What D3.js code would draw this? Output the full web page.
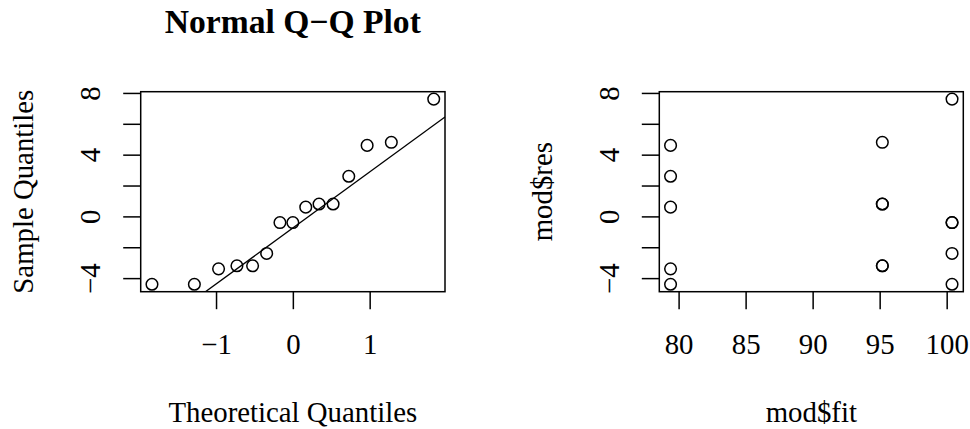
<!DOCTYPE html>
<html>
<head>
<meta charset="utf-8">
<script src="https://cdn.jsdelivr.net/npm/d3@7"></script>
<style>
  body { margin: 0; background: #fff; }
  svg text { font-family: "Liberation Serif", "DejaVu Serif", serif; fill: #000; }
</style>
</head>
<body>
<div id="chart-area"></div>
<script>
// theoretical quantiles (x) and sorted residuals (y)
var theoQ = [-1.834, -1.282, -0.967, -0.728, -0.524, -0.341, -0.168, 0, 0.168, 0.341, 0.524, 0.728, 0.967, 1.282, 1.834];
var sampleQ = [-4.4, -4.4, -3.4, -3.2, -3.2, -2.4, -0.4, -0.4, 0.6, 0.8, 0.8, 2.6, 4.6, 4.8, 7.6];

// fitted values vs residuals (right panel)
var modFit = [79.4, 79.4, 79.4, 79.4, 79.4, 95.2, 95.2, 95.2, 95.2, 95.2, 100.4, 100.4, 100.4, 100.4, 100.4];
var modRes = [4.6, 2.6, 0.6, -3.4, -4.4, 4.8, 0.8, 0.8, -3.2, -3.2, 7.6, -0.4, -0.4, -2.4, -4.4];

// ticks
var resTicks = [-4, -2, 0, 2, 4, 6, 8];
var resTickLabels = [-4, 0, 4, 8];
var qTicks = [-1, 0, 1];
var fitTicks = [80, 85, 90, 95, 100];

var def = {
    width: 970,
    height: 429,
    top: 91.7,
    bottom: 291.7,
    tick: 17.5,
    font: 28.8
};

var svg = d3.select('#chart-area').append('svg')
    .attr('width', def.width)
    .attr('height', def.height);

// R style range: data extent padded by 4% each side
function rDomain(vals) {
    var e = d3.extent(vals);
    var r = e[1] - e[0];
    return [e[0] - 0.04 * r, e[1] + 0.04 * r];
}

function panel(opt) {
    var x = d3.scaleLinear().domain(rDomain(opt.xs)).range([opt.left, opt.right]);
    var y = d3.scaleLinear().domain(rDomain(opt.ys)).range([def.bottom, def.top]);
    var g = svg.append('g');

    // x axis
    var xAx = g.append('g')
        .attr('transform', 'translate(0,' + def.bottom + ')')
        .call(d3.axisBottom(x).tickValues(opt.xTicks).tickSizeOuter(0).tickSize(def.tick).tickFormat(d3.format('d')));
    xAx.select('.domain').remove();
    xAx.attr('font-family', null).attr('font-size', null);
    xAx.selectAll('line').attr('stroke', '#000').attr('stroke-width', 1.5);
    xAx.selectAll('text')
        .attr('y', 62.3).attr('dy', null)
        .attr('font-size', def.font + 'px');

    // y axis
    var yAx = g.append('g')
        .attr('transform', 'translate(' + opt.left + ',0)')
        .call(d3.axisLeft(y).tickValues(opt.yTicks).tickSizeOuter(0).tickSize(def.tick)
            .tickFormat(function(d) { return opt.yLabels.indexOf(d) > -1 ? d3.format('d')(d) : ''; }));
    yAx.select('.domain').remove();
    yAx.attr('font-family', null).attr('font-size', null);
    yAx.selectAll('line').attr('stroke', '#000').attr('stroke-width', 1.5);
    yAx.selectAll('text')
        .attr('x', null).attr('dy', null)
        .attr('text-anchor', 'middle')
        .attr('transform', 'translate(-40.7,0) rotate(-90)')
        .attr('font-size', def.font + 'px');

    // box
    g.append('rect')
        .attr('x', opt.left).attr('y', def.top)
        .attr('width', opt.right - opt.left).attr('height', def.bottom - def.top)
        .attr('fill', 'none').attr('stroke', '#000').attr('stroke-width', 1.5);

    // clip for lines
    var clipId = 'clip-' + opt.name;
    svg.append('clipPath').attr('id', clipId).append('rect')
        .attr('x', opt.left).attr('y', def.top)
        .attr('width', opt.right - opt.left).attr('height', def.bottom - def.top);

    if (opt.line) {
        var xd = x.domain();
        g.append('line')
            .attr('clip-path', 'url(#' + clipId + ')')
            .attr('x1', x(xd[0])).attr('y1', y(opt.line.a + opt.line.b * xd[0]))
            .attr('x2', x(xd[1])).attr('y2', y(opt.line.a + opt.line.b * xd[1]))
            .attr('stroke', '#000').attr('stroke-width', 1.3);
    }

    // points
    g.selectAll('circle')
        .data(opt.xs.map(function(d, i) { return [d, opt.ys[i]]; }))
        .enter()
        .append('circle')
        .attr('cx', function(d) { return x(d[0]); })
        .attr('cy', function(d) { return y(d[1]); })
        .attr('r', 5.8)
        .attr('fill', 'none')
        .attr('stroke', '#000')
        .attr('stroke-width', 1.5);

    // x title
    g.append('text')
        .attr('x', (opt.left + opt.right) / 2)
        .attr('y', 422)
        .attr('text-anchor', 'middle')
        .attr('font-size', def.font + 'px')
        .text(opt.xLab);

    // y title
    g.append('text')
        .attr('transform', 'translate(' + (opt.left - 107.5) + ',' + ((def.top + def.bottom) / 2) + ') rotate(-90)')
        .attr('text-anchor', 'middle')
        .attr('font-size', def.font + 'px')
        .text(opt.yLab);

    if (opt.title) {
        g.append('text')
            .attr('x', (opt.left + opt.right) / 2)
            .attr('y', 33)
            .attr('text-anchor', 'middle')
            .attr('font-size', '33.6px')
            .attr('font-weight', 'bold')
            .text(opt.title);
    }
}

// qqline through the 1st and 3rd quartiles
var sq1 = d3.quantile(sampleQ, 0.25), sq3 = d3.quantile(sampleQ, 0.75);
var tq = 0.6745;
var slope = (sq3 - sq1) / (2 * tq);
var intercept = sq1 + tq * slope;

panel({
    name: 'qq',
    left: 140.7, right: 445,
    xs: theoQ, ys: sampleQ,
    xTicks: qTicks, yTicks: resTicks, yLabels: resTickLabels,
    xLab: 'Theoretical Quantiles', yLab: 'Sample Quantiles',
    title: 'Normal Q\u2212Q Plot',
    line: { a: intercept, b: slope }
});

panel({
    name: 'fit',
    left: 659.3, right: 963.3,
    xs: modFit, ys: modRes,
    xTicks: fitTicks, yTicks: resTicks, yLabels: resTickLabels,
    xLab: 'mod$fit', yLab: 'mod$res'
});
</script>
</body>
</html>
